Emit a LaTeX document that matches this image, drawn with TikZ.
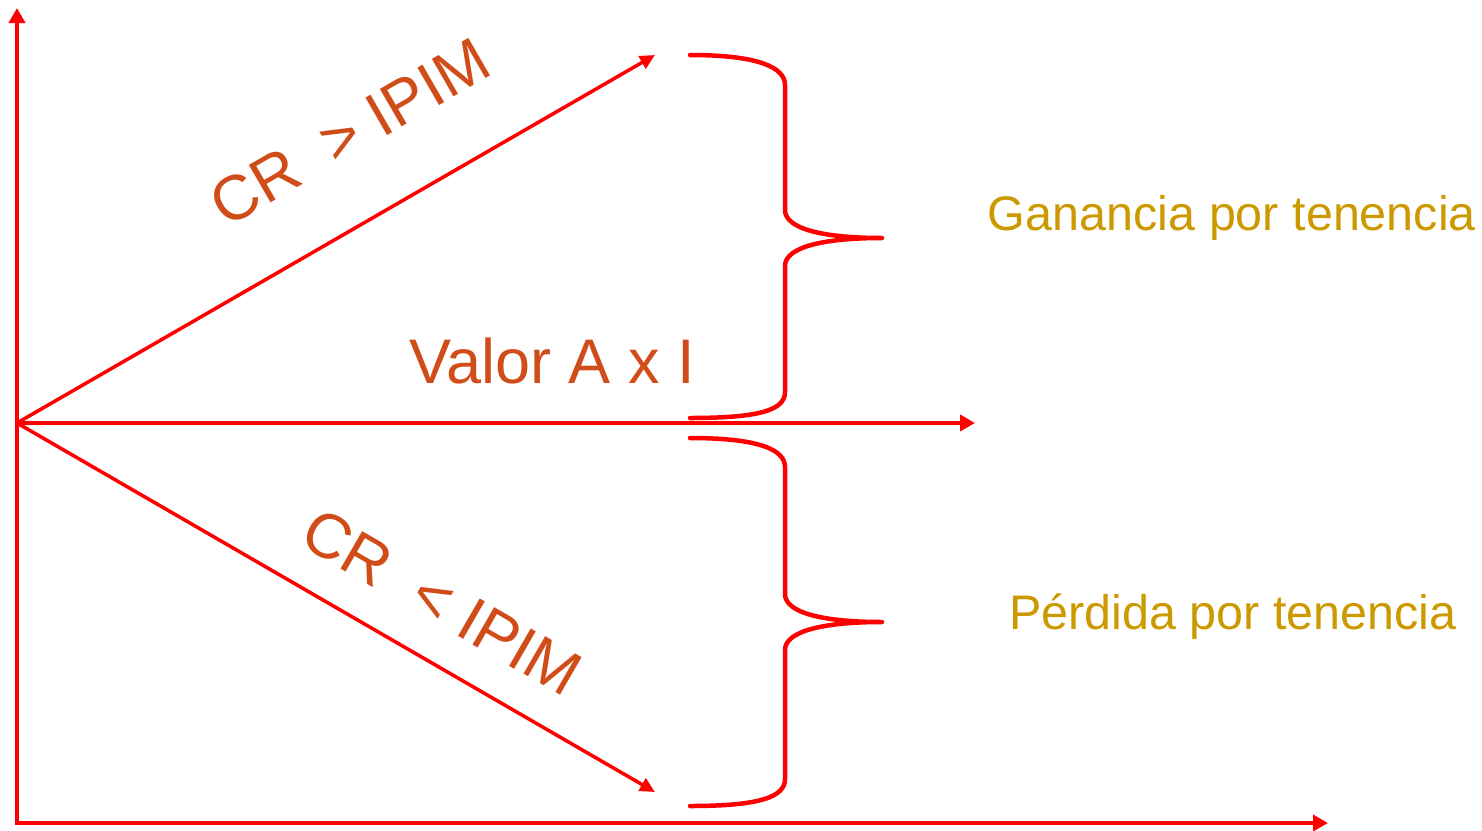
\documentclass[tikz,border=0pt]{standalone}
\usepackage{fontspec}
\setmainfont{Liberation Sans}
\usetikzlibrary{arrows.meta}
\definecolor{lblred}{RGB}{208,76,24}
\definecolor{lblgold}{RGB}{204,153,0}
\begin{document}
\begin{tikzpicture}[x=1pt,y=-1pt,
  axis/.style={draw=red,line width=4pt,-{Triangle[length=15pt,width=16pt]}},
  ray/.style={draw=red,line width=3.5pt,-{Triangle[length=15pt,width=14pt]}},
  bracepath/.style={draw=red,line width=4.5pt,line cap=round,line join=round},
  lbl/.style={text=lblred,font=\fontsize{63}{70}\selectfont,inner sep=0pt},
  side/.style={text=lblgold,font=\fontsize{48.5}{56}\selectfont,inner sep=0pt}]
\useasboundingbox (0,0) rectangle (1482,830);
% coordinates
\coordinate (O) at (17,423);
\coordinate (ybot) at (17,825);
\coordinate (ytop) at (17,8);
\coordinate (xl) at (17,823);
\coordinate (xr) at (1328,823);
\coordinate (mid) at (975,423);
\coordinate (up) at (655,55);
\coordinate (dn) at (655,792);
% axes
\draw[axis] (ybot) -- (ytop);
\draw[axis] (xl) -- (xr);
\draw[axis] (O) -- (mid);
\draw[ray] (O) -- (up);
\draw[ray] (O) -- (dn);
% upper brace
\coordinate (b1s) at (690,55);
\coordinate (b1t) at (882,238);
\coordinate (b1e) at (690,418);
\draw[bracepath] (b1s) .. controls (760,55) and (785,68) .. (785,85)
  -- (785,210) .. controls (785,228) and (820,238) .. (b1t)
  .. controls (820,238) and (785,248) .. (785,266)
  -- (785,392) .. controls (785,410) and (760,418) .. (b1e);
% lower brace
\coordinate (b2s) at (690,438);
\coordinate (b2t) at (882,622);
\coordinate (b2e) at (690,806);
\draw[bracepath] (b2s) .. controls (760,438) and (785,450) .. (785,467)
  -- (785,594) .. controls (785,612) and (820,622) .. (b2t)
  .. controls (820,622) and (785,632) .. (785,650)
  -- (785,779) .. controls (785,797) and (760,806) .. (b2e);
% labels
\node[lbl,rotate=30,anchor=center] (gt) at (350,132) {CR\ \ > IPIM};
\node[lbl,rotate=-30,anchor=center] (lt) at (442,602) {CR\ \ < IPIM};
\node[lbl,anchor=base] (va) at (552,383) {Valor A x I};
\node[side,anchor=base] (gan) at (1232,230) {Ganancia por tenencia};
\node[side,anchor=base] (per) at (1233,629) {Pérdida por tenencia};
\end{tikzpicture}
\end{document}
